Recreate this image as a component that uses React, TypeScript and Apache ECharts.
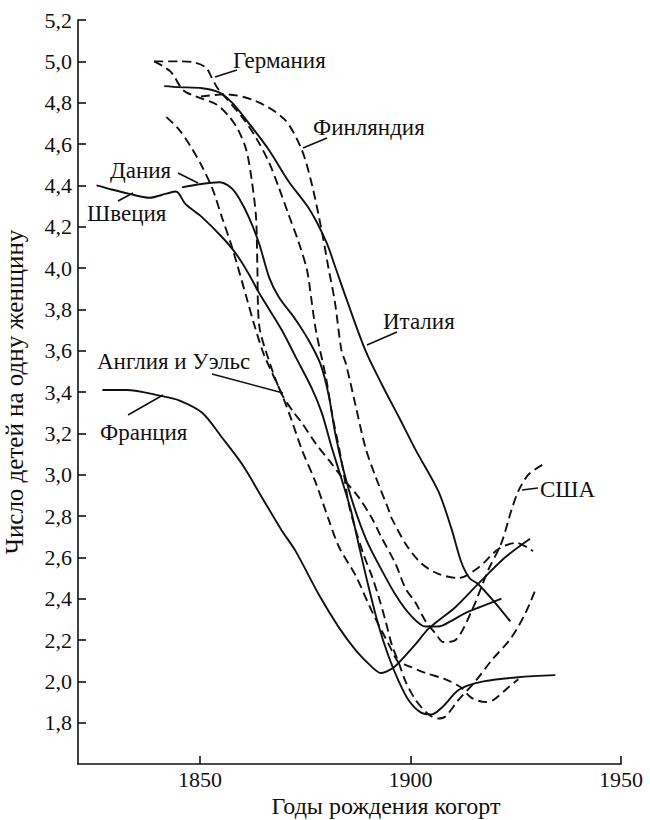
import React, { useEffect, useRef } from "react";
import * as echarts from "echarts";

const FONT = "Liberation Serif, DejaVu Serif, serif";
const INK = "#111";

// x tick values and y range
const xTickValues = [1850, 1900, 1950];
const yTickValues = [1.8, 2.0, 2.2, 2.4, 2.6, 2.8, 3.0, 3.2, 3.4, 3.6, 3.8, 4.0, 4.2, 4.4, 4.6, 4.8, 5.0, 5.2];

// [cohort year, children per woman]
const sweden = [
  [1825.4, 4.4], [1829, 4.38], [1833, 4.36], [1838, 4.34], [1842, 4.36], [1844.3, 4.37], [1846.5, 4.31],
  [1850.5, 4.245], [1855.2, 4.15], [1858.5, 4.07], [1861.6, 3.97], [1864, 3.88], [1869.4, 3.7], [1872.7, 3.57],
  [1876.5, 3.42], [1878.9, 3.3], [1881.3, 3.13], [1883.6, 2.98], [1885.8, 2.83], [1887.7, 2.66], [1890, 2.46],
  [1892.4, 2.27], [1894.8, 2.12], [1897.2, 2.0], [1899.5, 1.91], [1902.4, 1.85], [1905, 1.84], [1907.8, 1.88],
  [1910.9, 1.95], [1913.7, 1.98], [1917.3, 2.0], [1925.6, 2.02], [1934.4, 2.03],
];

const denmark = [
  [1845.7, 4.39], [1849.8, 4.405], [1854.5, 4.415], [1857.3, 4.39], [1859.2, 4.34], [1861.6, 4.245], [1864, 4.12],
  [1866.4, 3.955], [1868.7, 3.86], [1872.7, 3.75], [1875.8, 3.65], [1878.7, 3.53], [1880.6, 3.38], [1882.2, 3.19],
  [1884.1, 3.02], [1886.5, 2.85], [1889.6, 2.68], [1893.1, 2.54], [1896.7, 2.41], [1900, 2.32], [1903.6, 2.265],
  [1906.6, 2.265], [1909.5, 2.29], [1913, 2.33], [1916.6, 2.36], [1921.6, 2.4],
];

const italy = [
  [1841.5, 4.88], [1845, 4.875], [1850.5, 4.87], [1854.5, 4.85], [1857.6, 4.8], [1861.6, 4.7], [1866.4, 4.57],
  [1871, 4.42], [1875.8, 4.29], [1879.9, 4.13], [1882.2, 4.0], [1884.6, 3.86], [1889.3, 3.6], [1893.1, 3.44],
  [1897.2, 3.28], [1901.2, 3.12], [1906.6, 2.92], [1909.7, 2.74], [1912, 2.58], [1914, 2.5], [1916.1, 2.47],
  [1920.1, 2.38], [1923.7, 2.29],
];

const france = [
  [1826.8, 3.41], [1832.5, 3.41], [1841, 3.38], [1845, 3.36], [1850.5, 3.3], [1855.2, 3.18], [1860, 3.05],
  [1864.7, 2.89], [1869.4, 2.73], [1872.7, 2.63], [1878.2, 2.42], [1883, 2.26], [1887, 2.15], [1890.8, 2.07],
  [1893, 2.04], [1895.5, 2.06], [1897.2, 2.09], [1901.2, 2.18], [1904.3, 2.255], [1910.7, 2.36], [1916, 2.47],
  [1922.5, 2.6], [1928.4, 2.69],
];

const germany = [
  [1839.1, 5.0], [1845, 5.0], [1848.6, 4.995], [1851.4, 4.97], [1852.8, 4.92], [1854, 4.875], [1855, 4.85],
  [1860, 4.73], [1863.3, 4.63], [1866.4, 4.51], [1868.7, 4.39], [1871, 4.26], [1873.5, 4.12], [1875.4, 3.99],
  [1876.5, 3.84], [1877.5, 3.7], [1880, 3.46], [1881.3, 3.3], [1883, 3.13], [1884.1, 3.01], [1885.3, 2.86],
  [1887, 2.73], [1888.9, 2.61], [1890.8, 2.51], [1892.4, 2.41], [1894.1, 2.29], [1895.5, 2.18], [1897.2, 2.09],
  [1898.8, 2.0], [1901.2, 1.91], [1904.3, 1.84], [1906.6, 1.82], [1908.3, 1.83], [1911.4, 1.91], [1915.4, 2.0],
  [1919.2, 2.1], [1923.9, 2.21], [1927.3, 2.33], [1929.6, 2.44],
];

const finland = [
  [1850.2, 4.83], [1856, 4.84], [1863, 4.81], [1870, 4.72], [1874, 4.58], [1876.5, 4.41], [1879, 4.17],
  [1880.5, 4.0], [1882, 3.84], [1883.6, 3.6], [1884.6, 3.54], [1887, 3.33], [1889.3, 3.13], [1891.7, 2.99],
  [1894.8, 2.83], [1895.5, 2.79], [1899, 2.66], [1902.6, 2.57], [1906.6, 2.52], [1911.4, 2.5], [1916.1, 2.55],
  [1920.9, 2.64], [1925.1, 2.67], [1929.1, 2.63],
];

const englandWales = [
  [1842, 4.73], [1845, 4.67], [1848, 4.58], [1850.5, 4.49], [1853, 4.38], [1855.2, 4.245], [1857.6, 4.1],
  [1861, 3.86], [1862.8, 3.73], [1865.2, 3.58], [1869.4, 3.39], [1871.8, 3.26], [1874.2, 3.12], [1877.5, 2.96],
  [1880.6, 2.78], [1883, 2.65], [1887, 2.51], [1890.8, 2.34], [1894.8, 2.18], [1897.2, 2.09], [1898.8, 2.08],
  [1903.6, 2.04], [1908.3, 2.01], [1912, 1.97], [1914.5, 1.92], [1917.8, 1.9], [1919.7, 1.91], [1923.2, 1.97],
  [1925.6, 2.01],
];

const usa = [
  [1839.1, 5.0], [1843, 4.95], [1846, 4.86], [1849, 4.83], [1854, 4.79], [1857, 4.73], [1859, 4.67],
  [1861, 4.57], [1862.3, 4.42], [1863.3, 4.245], [1863.6, 4.02], [1864, 3.73], [1866.4, 3.55], [1869.4, 3.39],
  [1872.3, 3.3], [1874.2, 3.25], [1877.5, 3.15], [1880.6, 3.07], [1883.6, 2.99], [1887.7, 2.89], [1890.8, 2.79],
  [1893, 2.7], [1896.4, 2.57], [1898.8, 2.45], [1901.2, 2.38], [1903.6, 2.29], [1906, 2.23], [1907.8, 2.19],
  [1910.7, 2.2], [1914.5, 2.34], [1918.5, 2.54], [1921.6, 2.67], [1924, 2.83], [1925.6, 2.92], [1928, 3.0],
  [1931.5, 3.05],
];

const countries = [
  { name: "Швеция", data: sweden, dashed: false },
  { name: "Дания", data: denmark, dashed: false },
  { name: "Италия", data: italy, dashed: false },
  { name: "Франция", data: france, dashed: false },
  { name: "Германия", data: germany, dashed: true },
  { name: "Финляндия", data: finland, dashed: true },
  { name: "Англия и Уэльс", data: englandWales, dashed: true },
  { name: "США", data: usa, dashed: true },
];

// annotation labels (pixel positions) with leader lines
const annotations = [
  { text: "Германия", x: 233, y: 60, line: [237, 70, 215, 77] },
  { text: "Финляндия", x: 313, y: 127, line: [327, 138, 303, 148] },
  { text: "Дания", x: 110, y: 170, line: [178, 173, 198, 183] },
  { text: "Швеция", x: 87, y: 213, line: [118, 201, 133, 193] },
  { text: "Италия", x: 383, y: 321, line: [397, 332, 367, 345] },
  { text: "Англия и Уэльс", x: 97, y: 361, line: [212, 374, 283, 393] },
  { text: "Франция", x: 100, y: 432, line: [128, 415, 163, 395] },
  { text: "США", x: 540, y: 489, line: [538, 488, 522, 490] },
];

const X_TITLE = "Годы рождения когорт";
const Y_TITLE = "Число детей на одну женщину";

export default function App() {
  const ref = useRef<HTMLDivElement>(null);

  useEffect(() => {
    if (!ref.current) return;
    const chart = echarts.init(ref.current, null, { renderer: "svg" });

    const graphic: any[] = [];
    annotations.forEach((a) => {
      graphic.push({
        type: "line",
        silent: true,
        shape: { x1: a.line[0], y1: a.line[1], x2: a.line[2], y2: a.line[3] },
        style: { stroke: INK, lineWidth: 1.6 },
      });
      graphic.push({
        type: "text",
        silent: true,
        x: a.x,
        y: a.y,
        style: {
          text: a.text,
          fill: INK,
          fontFamily: FONT,
          fontSize: 23,
          verticalAlign: "middle",
          align: "left",
        },
      });
    });
    graphic.push({
      type: "text",
      silent: true,
      x: 386,
      y: 806,
      style: {
        text: X_TITLE,
        fill: INK,
        fontFamily: FONT,
        fontSize: 24,
        verticalAlign: "middle",
        align: "center",
      },
    });

    chart.setOption({
      animation: false,
      backgroundColor: "#fff",
      textStyle: { fontFamily: FONT, color: INK },
      grid: { left: 78, right: 29, top: 20, bottom: 56, containLabel: false, outerBoundsMode: "none" },
      xAxis: {
        type: "value",
        min: 1821,
        max: 1950,
        axisLine: { show: true, lineStyle: { color: INK, width: 1.6 } },
        axisTick: { show: true, inside: true, length: 8, customValues: xTickValues, lineStyle: { color: INK, width: 1.6 } },
        axisLabel: {
          customValues: xTickValues,
          fontFamily: FONT,
          fontSize: 22,
          color: INK,
          margin: 4,
          formatter: (v: number) => String(Math.round(v)),
        },
        splitLine: { show: false },
      },
      yAxis: {
        type: "value",
        min: 1.6,
        max: 5.2,
        interval: 0.2,
        name: Y_TITLE,
        nameLocation: "middle",
        nameRotate: 90,
        nameGap: 51,
        nameTextStyle: { fontFamily: FONT, fontSize: 25, color: INK },
        axisLine: { show: true, lineStyle: { color: INK, width: 1.6 } },
        axisTick: { show: true, inside: true, length: 8, customValues: yTickValues, lineStyle: { color: INK, width: 1.6 } },
        axisLabel: {
          customValues: yTickValues,
          fontFamily: FONT,
          fontSize: 22,
          color: INK,
          margin: 6,
          formatter: (v: number) => v.toFixed(1).replace(".", ","),
        },
        splitLine: { show: false },
      },
      series: countries.map((c) => ({
        type: "line",
        name: c.name,
        data: c.data,
        showSymbol: false,
        smooth: 0.3,
        silent: true,
        lineStyle: { color: INK, width: 1.9, type: c.dashed ? [9, 5] : "solid" },
      })),
      graphic,
    });

    return () => chart.dispose();
  }, []);

  return (
    <div
      ref={ref}
      style={{ position: "absolute", left: 0, top: 0, width: 650, height: 820 }}
    />
  );
}
